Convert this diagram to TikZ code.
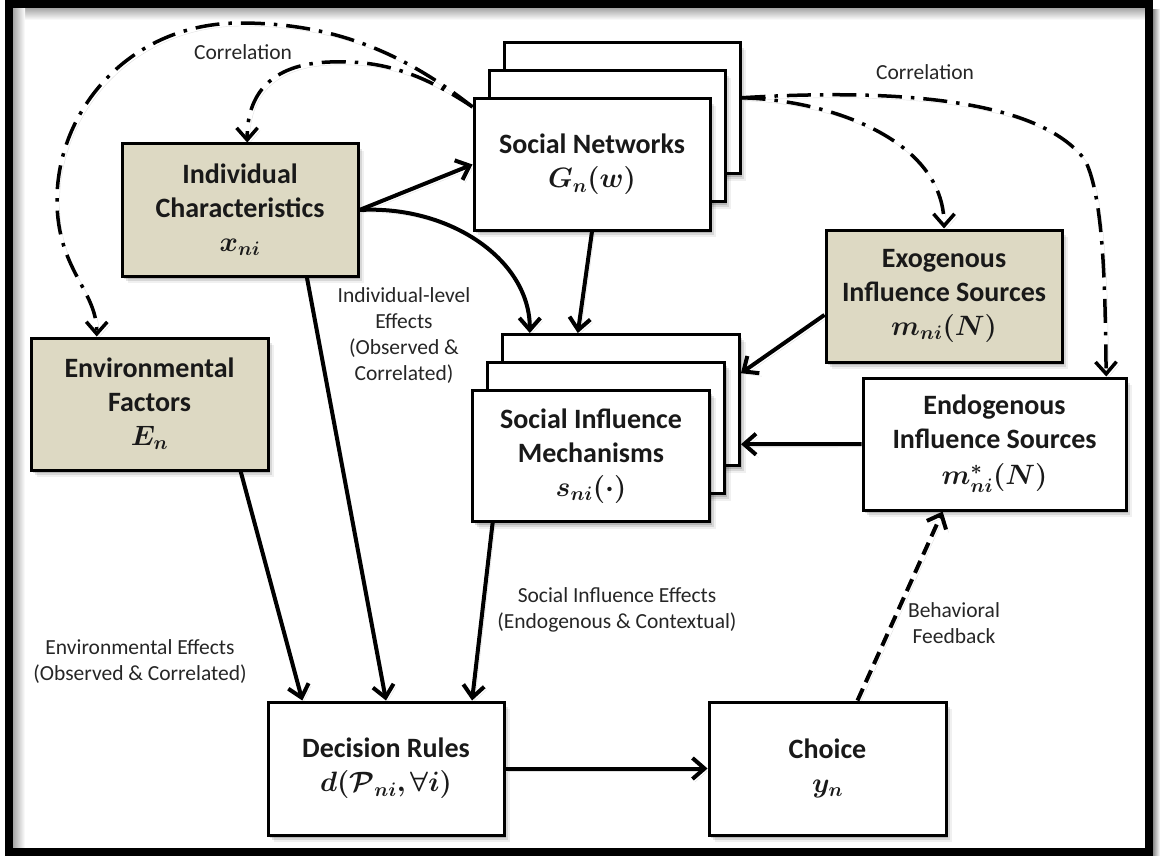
\RequirePackage{fix-cm}
\documentclass[tikz,border=0pt]{standalone}
\usepackage{amsmath,amssymb}
\usepackage{fontspec}
\setmainfont{Carlito}
\usepackage{bm}
\usetikzlibrary{arrows.meta,calc,shadows}
\definecolor{tanfill}{HTML}{DDD9C3}
\begin{document}
\begin{tikzpicture}[x=1pt,y=-1pt,
  every node/.style={inner sep=0pt},
  softshadow/.style={
    general shadow={shadow xshift=6pt, shadow yshift=-7pt, fill=black, opacity=0.06},
    general shadow={shadow xshift=4pt, shadow yshift=-5pt, fill=black, opacity=0.10},
    general shadow={shadow xshift=2pt, shadow yshift=-3pt, fill=black, opacity=0.15}},
  box/.style={draw=black, line width=3pt, fill=white, minimum width=236pt,
    minimum height=132pt, align=center, text=black!90,
    font=\bfseries\fontsize{28}{34}\selectfont, softshadow},
  tanbox/.style={box, fill=tanfill},
  lineshadow/.style={preaction={draw=black, draw opacity=0.12,
    transform canvas={shift={(2.5pt,-3pt)}}}},
  conn/.style={line width=4pt, lineshadow, -{Straight Barb[length=12pt,width=21pt]}},
  corr/.style={conn, line width=3.5pt, dash pattern=on 24pt off 9pt on 3.5pt off 9pt},
  fback/.style={conn, dash pattern=on 13pt off 7pt},
  lbl/.style={font=\fontsize{21.5}{26}\selectfont, align=center, text=black!85}
]
\useasboundingbox (0,0) rectangle (1160,856);
\fill[white] (0,0) rectangle (1160,856);
% inner shading of the frame
\shade[top color=black!35, bottom color=white] (13,8) rectangle (1145,20);
\shade[left color=black!35, right color=white] (13,8) rectangle (25,848);
\shade[left color=black!45, right color=white] (1153,10) rectangle (1160,856);
\draw[line width=8pt] (9,4) rectangle (1149,852);

% boxes
\node[tanbox] (ind) at (240,210) {Individual\\Characteristics\\$\bm{x_{ni}}$};
\node[tanbox, minimum width=237pt] (env) at (149.5,404) {Environmental\\Factors\\$\bm{E_n}$};
\node[box, minimum height=131pt] (snb) at (622,108.5) {};
\node[box, minimum height=131pt] (snm) at (607,136.5) {};
\node[box, minimum height=131pt] (snf) at (592,164.5) {Social Networks\\$\bm{G_n(w)}$};
\node[box, minimum width=237pt, minimum height=131pt] (simb) at (621,400) {};
\node[box, minimum width=237pt, minimum height=131pt] (simm) at (606,428) {};
\node[box, minimum width=237pt, minimum height=131pt] (simf) at (591,456) {Social Influence\\Mechanisms\\$\bm{s_{ni}(\cdot)}$};
\node[tanbox] (exo) at (944,296) {Exogenous\\Influence Sources\\$\bm{m_{ni}(N)}$};
\node[box, minimum width=263pt] (endo) at (994.5,444) {Endogenous\\Influence Sources\\[2pt]$\bm{m^{*}_{ni}(N)}$};
\node[box, minimum height=133pt] (dec) at (386,768.5) {Decision Rules\\$\bm{d(\mathcal{P}_{ni},\forall i)}$};
\node[box, minimum width=237pt, minimum height=133pt] (cho) at (827.5,768.5) {Choice\\$\bm{y_n}$};

% labels
\node[lbl] (c1) at (243,52) {Correlation};
\node[lbl] (c2) at (925,72) {Correlation};
\node[lbl] (l1) at (404,336) {Individual-level\\Effects\\(Observed \&\\Correlated)};
\node[lbl] (l2) at (140,662) {Environmental Effects\\(Observed \& Correlated)};
\node[lbl] (l3) at (617,610) {Social Influence Effects\\(Endogenous \& Contextual)};
\node[lbl] (l4) at (954,623) {Behavioral\\Feedback};

% solid influence arrows
\draw[conn] (ind.east) -- (snf.west);
\draw[conn] (ind.east) .. controls (450,205) and (530,260) .. ($(simb.north west)!0.12!(simb.north east)$);
\draw[conn] (snf.south) -- ($(simb.north west)!0.32!(simb.north east)$);
\draw[conn] ($(ind.south west)!0.78!(ind.south east)$) -- (dec.north);
\draw[conn] ($(env.south west)!0.88!(env.south east)$) -- ($(dec.north west)!0.15!(dec.north east)$);
\draw[conn] ($(simf.south west)!0.09!(simf.south east)$) -- ($(dec.north west)!0.86!(dec.north east)$);
\draw[conn] (dec.east) -- (cho.west);
\draw[conn] ($(exo.north west)!0.64!(exo.south west)$) -- ($(simb.north east)!0.3!(simb.south east)$);
\draw[conn] (endo.west) -- ($(simb.north east)!0.83!(simb.south east)$);
\draw[fback] ($(cho.north west)!0.625!(cho.north east)$) -- ($(endo.south west)!0.305!(endo.south east)$);

% correlation arcs
\draw[corr] ($(snf.north west)!0.07!(snf.south west)$) .. controls (400,50) and (330,23) .. (240,23)
  .. controls (130,23) and (57,110) .. (57,200)
  .. controls (57,270) and (97,290) .. ($(env.north west)!0.28!(env.north east)$);
\draw[corr] ($(snf.north west)!0.07!(snf.south west)$) .. controls (420,72) and (380,60) .. (330,62)
  .. controls (270,64) and (247,95) .. ($(ind.north west)!0.53!(ind.north east)$);
\draw[corr] ($(snb.north east)!0.42!(snb.south east)$) .. controls (830,100) and (944,140) .. (exo.north);
\draw[corr] ($(snb.north east)!0.42!(snb.south east)$) .. controls (900,88) and (1040,100) .. (1085,160)
  .. controls (1105,200) and (1105,300) .. ($(endo.north west)!0.92!(endo.north east)$);
\end{tikzpicture}
\end{document}
